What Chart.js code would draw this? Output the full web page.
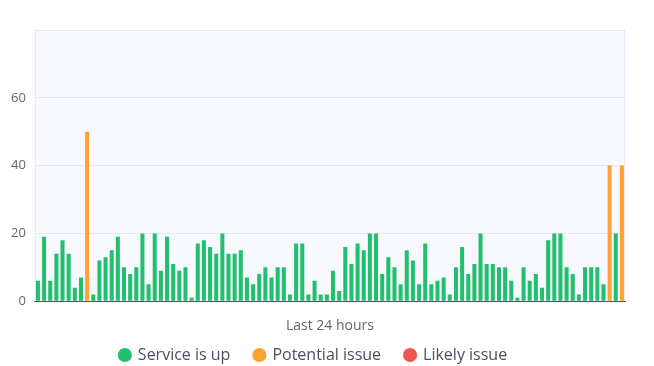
<!DOCTYPE html>
<html>
<head>
<meta charset="utf-8">
<script src="https://cdn.jsdelivr.net/npm/chart.js@4.4.0/dist/chart.umd.min.js"></script>
<style>
  html, body { margin: 0; padding: 0; background: #fff; }
  #wrap { width: 654px; height: 366px; }
</style>
</head>
<body>
<div id="wrap"><canvas id="statusChart" width="654" height="366"></canvas></div>
<script>
// 96 x 15 minute slots over the last 24 hours
const values = [
  6, 19, 6, 14, 18, 14, 4, 7, 50, 2, 12, 13, 15, 19, 10, 8, 10, 20, 5, 20, 9, 19, 11, 9,
  10, 1, 17, 18, 16, 14, 20, 14, 14, 15, 7, 5, 8, 10, 7, 10, 10, 2, 17, 17, 2, 6, 2, 2,
  9, 3, 16, 11, 17, 15, 20, 20, 8, 13, 10, 5, 15, 12, 5, 17, 5, 6, 7, 2, 10, 16, 8, 11,
  20, 11, 11, 10, 10, 6, 1, 10, 6, 8, 4, 18, 20, 20, 10, 8, 2, 10, 10, 10, 5, 40, 20, 40
];
// slots flagged (0-based index)
const potentialSlots = [8, 93, 95];
const likelySlots = [];

const seriesNames = ['Service is up', 'Potential issue', 'Likely issue'];
const seriesColors = ['#22c06e', '#ffa233', '#f25550'];

const labels = values.map((v, i) => {
  const m = i * 15;
  return String(Math.floor(m / 60)).padStart(2, '0') + ':' + String(m % 60).padStart(2, '0');
});

const upData = values.map((v, i) => (potentialSlots.includes(i) || likelySlots.includes(i)) ? null : v);
const potentialData = values.map((v, i) => potentialSlots.includes(i) ? v : null);
const likelyData = values.map((v, i) => likelySlots.includes(i) ? v : null);

// plot area background + frame
const plotFrame = {
  id: 'plotFrame',
  beforeDraw(chart) {
    const { ctx, chartArea: a } = chart;
    ctx.save();
    ctx.fillStyle = '#f7f9fe';
    ctx.fillRect(a.left, a.top, a.right - a.left, a.bottom - a.top);
    ctx.strokeStyle = '#e4e9f4';
    ctx.lineWidth = 1;
    ctx.strokeRect(a.left + 0.5, a.top + 0.5, a.right - a.left - 1, a.bottom - a.top);
    ctx.restore();
  }
};

// wide gaps between legend items but a short legend box
const legendFit = {
  id: 'legendFit',
  beforeLayout(chart) {
    const lg = chart.legend;
    if (lg && !lg._fitPatched) {
      const fit = lg.fit;
      lg.fit = function () { fit.call(this); this.height = 32; };
      lg._fitPatched = true;
    }
  },
  afterLayout(chart) {
    chart.legend.top -= 11;
    chart.legend.height += 11;
  }
};

new Chart(document.getElementById('statusChart'), {
  type: 'bar',
  data: {
    labels: labels,
    datasets: [
      { label: seriesNames[0], data: upData, backgroundColor: seriesColors[0] },
      { label: seriesNames[1], data: potentialData, backgroundColor: seriesColors[1] },
      { label: seriesNames[2], data: likelyData, backgroundColor: seriesColors[2] }
    ]
  },
  options: {
    responsive: false,
    animation: false,
    layout: { padding: { top: 30, right: 29, left: 2, bottom: 0 } },
    datasets: { bar: { categoryPercentage: 0.8, barPercentage: 0.82 } },
    plugins: {
      tooltip: { enabled: false },
      legend: {
        position: 'bottom',
        labels: {
          usePointStyle: true,
          pointStyle: 'circle',
          boxWidth: 10,
          boxHeight: 10,
          padding: 24,
          color: '#4b5060',
          font: { family: 'Open Sans', size: 16 }
        }
      }
    },
    scales: {
      x: {
        stacked: true,
        grid: { display: false, drawTicks: false },
        border: { color: '#555', width: 1 },
        ticks: { display: false },
        title: {
          display: true,
          text: 'Last 24 hours',
          color: '#666',
          font: { family: 'Open Sans', size: 14 },
          padding: { top: 16, bottom: 0 }
        }
      },
      y: {
        stacked: true,
        min: 0,
        max: 80,
        grid: { color: '#e3e7f0', drawTicks: false },
        border: { display: false },
        ticks: {
          stepSize: 20,
          padding: 9,
          color: '#666',
          font: { family: 'Open Sans', size: 13 },
          callback: v => v >= 80 ? '' : v
        }
      }
    }
  },
  plugins: [plotFrame, legendFit]
});
</script>
</body>
</html>
